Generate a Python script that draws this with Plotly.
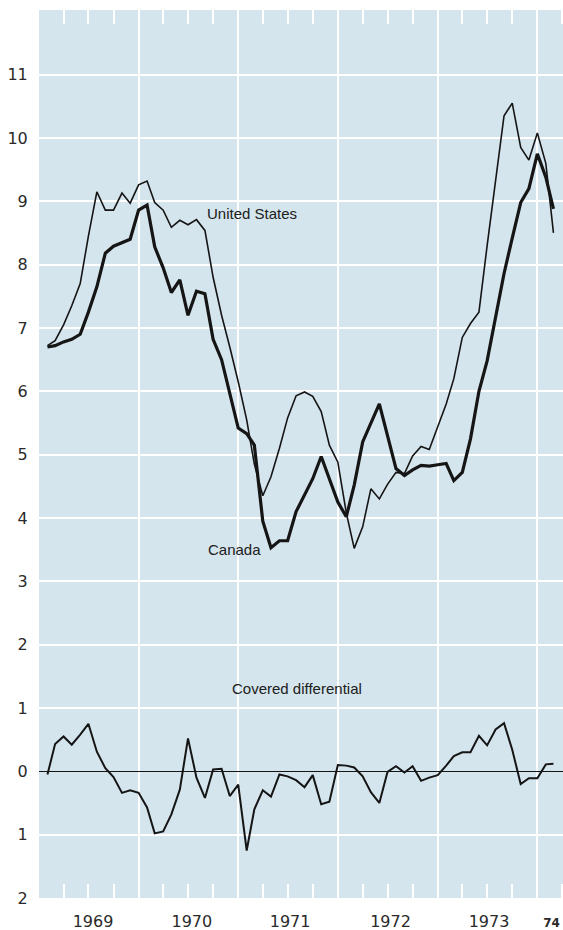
import pandas as pd
import plotly.graph_objects as go

# Monthly observations, Feb 1969 - Mar 1974
months = pd.date_range("1969-02-01", periods=62, freq="MS")

us_rate = [
    6.72, 6.80, 7.05, 7.35, 7.70, 8.45, 9.15, 8.86, 8.86, 9.13, 8.97,
    9.26, 9.32, 8.98, 8.86, 8.59, 8.70, 8.63, 8.71, 8.54, 7.80, 7.20, 6.70,
    6.15, 5.55, 4.85, 4.35, 4.65, 5.10, 5.58, 5.93, 5.99, 5.92, 5.68, 5.15,
    4.88, 4.08, 3.52, 3.86, 4.46, 4.30, 4.53, 4.72, 4.70, 4.98, 5.13, 5.08,
    5.45, 5.80, 6.20, 6.85, 7.07, 7.25, 8.30, 9.35, 10.35, 10.55, 9.85, 9.65,
    10.08, 9.60, 8.50,
]

canada_rate = [
    6.70, 6.72, 6.78, 6.82, 6.90, 7.25, 7.65, 8.18, 8.29, 8.35, 8.40,
    8.86, 8.94, 8.28, 7.95, 7.56, 7.76, 7.20, 7.58, 7.54, 6.82, 6.50, 5.95,
    5.42, 5.33, 5.15, 3.95, 3.53, 3.64, 3.64, 4.10, 4.36, 4.62, 4.97, 4.60,
    4.25, 4.02, 4.52, 5.20, 5.50, 5.80, 5.30, 4.78, 4.67, 4.76, 4.83, 4.82,
    4.84, 4.86, 4.59, 4.72, 5.25, 6.00, 6.48, 7.15, 7.86, 8.42, 8.98, 9.20,
    9.75, 9.38, 8.88,
]

covered_diff = [
    -0.05, 0.43, 0.55, 0.42, 0.58, 0.75, 0.31, 0.05, -0.09, -0.34, -0.30,
    -0.34, -0.57, -0.98, -0.95, -0.68, -0.29, 0.52, -0.10, -0.42, 0.03, 0.04, -0.39,
    -0.21, -1.25, -0.60, -0.30, -0.40, -0.05, -0.08, -0.14, -0.25, -0.06, -0.52, -0.48,
    0.10, 0.09, 0.06, -0.08, -0.33, -0.50, -0.01, 0.08, -0.02, 0.08, -0.15, -0.10,
    -0.06, 0.09, 0.24, 0.30, 0.30, 0.56, 0.41, 0.66, 0.76, 0.34, -0.20, -0.11,
    -0.11, 0.11, 0.12,
]

y_ticks = list(range(-2, 12))
y_tick_labels = [str(abs(v)) for v in y_ticks]

year_labels = ["1969", "1970", "1971", "1972", "1973",
               "<b><span style='font-size:12px'>74</span></b>"]
year_label_dates = ["1969-07-18", "1970-07-15", "1971-07-10", "1972-07-12",
                    "1973-07-08", "1974-02-22"]

BG = "#d5e5ed"
INK = "#151515"
TICK_FONT = dict(family="DejaVu Sans", size=16, color="#2a2a2a")
LABEL_FONT = dict(family="Liberation Sans", size=15, color="#202020")
X_RANGE = ["1969-01-01", "1974-04-05"]

fig = go.Figure()
fig.add_trace(go.Scatter(x=months, y=us_rate, mode="lines", xaxis="x",
                         line=dict(color=INK, width=1.6), name="United States",
                         showlegend=False))
fig.add_trace(go.Scatter(x=months, y=canada_rate, mode="lines", xaxis="x3",
                         line=dict(color=INK, width=3.2), name="Canada",
                         showlegend=False))
fig.add_trace(go.Scatter(x=months, y=covered_diff, mode="lines", xaxis="x2",
                         line=dict(color=INK, width=2.0), name="Covered differential",
                         showlegend=False))

fig.update_layout(
    width=563, height=930, autosize=False,
    margin=dict(l=39, r=0, t=10, b=32, pad=0),
    paper_bgcolor="white", plot_bgcolor=BG,
    # quarterly white tick marks, top and bottom
    xaxis=dict(
        type="date", range=X_RANGE,
        tick0="1969-01-01", dtick="M3",
        showgrid=False, zeroline=False, showline=False,
        ticks="inside", ticklen=14, tickcolor="white", tickwidth=1.5,
        mirror="ticks", showticklabels=False,
    ),
    # year labels
    xaxis2=dict(
        type="date", overlaying="x", matches="x", anchor="y", side="bottom",
        tickmode="array", tickvals=year_label_dates, ticktext=year_labels,
        showgrid=False, zeroline=False, showline=False,
        ticks="outside", ticklen=9, tickcolor="rgba(0,0,0,0)",
        tickfont=TICK_FONT,
    ),
    # yearly white gridlines
    xaxis3=dict(
        type="date", overlaying="x", matches="x", anchor="y", side="bottom",
        tick0="1969-01-01", dtick="M12",
        showgrid=True, gridcolor="white", gridwidth=1.6,
        zeroline=False, showline=False, ticks="", showticklabels=False,
    ),
    yaxis=dict(
        range=[-2, 12.02],
        tickmode="array", tickvals=y_ticks, ticktext=y_tick_labels,
        showgrid=True, gridcolor="white", gridwidth=1.6,
        zeroline=True, zerolinecolor=INK, zerolinewidth=1.3,
        showline=False,
        ticks="outside", ticklen=7, tickcolor="rgba(0,0,0,0)",
        tickfont=TICK_FONT,
    ),
    annotations=[
        dict(x="1970-09-02", y=8.81, xref="x", yref="y", text="United States",
             showarrow=False, xanchor="left", yanchor="middle", font=LABEL_FONT),
        dict(x="1970-12-17", y=3.51, xref="x", yref="y", text="Canada",
             showarrow=False, xanchor="center", yanchor="middle", font=LABEL_FONT),
        dict(x="1971-08-05", y=1.31, xref="x", yref="y", text="Covered differential",
             showarrow=False, xanchor="center", yanchor="middle", font=LABEL_FONT),
    ],
)

fig.write_html(
    "out.html",
    config={"displayModeBar": False},
    post_script="document.body.style.margin='0px';document.body.style.overflow='hidden';",
)
